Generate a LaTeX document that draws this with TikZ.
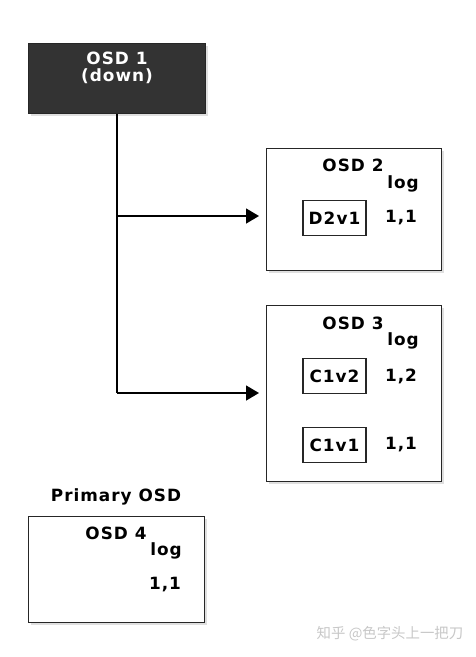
\documentclass[tikz,border=0pt]{standalone}
\usepackage{fontspec}
\setmainfont{DejaVu Sans}[LetterSpace=6]
\newfontfamily\cjk{Noto Sans CJK SC}
\usetikzlibrary{positioning,shadows,arrows.meta}

\tikzset{
  osdbox/.style={draw=black!85, fill=white, line width=0.8pt, inner sep=0pt,
    anchor=north west, drop shadow={shadow xshift=1.2pt, shadow yshift=-1.5pt, opacity=0.25}},
  objbox/.style={draw=black!85, line width=0.7pt, minimum width=1.26cm, minimum height=0.7cm, inner sep=0pt},
  lbl/.style={font=\bfseries\fontsize{9.6}{9.6}\selectfont, inner sep=0pt},
  link/.style={line width=0.85pt, -{Triangle[length=0.26cm,width=0.3cm]}, shorten >=0.14cm}
}

\begin{document}
\begin{tikzpicture}[x=0.02cm,y=-0.02cm]
\useasboundingbox (0,0) rectangle (476,657);

% failed osd
\node[osdbox, fill=black!80, minimum width=3.54cm, minimum height=1.4cm] (osd1) at (28,43) {};
\node[lbl, text=white, align=center] (osd1t) at (117,68) {OSD 1\\(down)};

% replicas
\node[osdbox, minimum width=3.5cm, minimum height=2.44cm] (osd2) at (266,148) {};
\node[lbl] (osd2t) at (353,165) {OSD 2};
\node[lbl] (log2) at (403,184) {log};
\node[objbox, lbl, minimum width=1.26cm, minimum height=0.7cm] (d2v1) at (334.5,218) {D2v1};
\node[lbl] (e2) at (401,218) {1,1};

\node[osdbox, minimum width=3.5cm, minimum height=3.52cm] (osd3) at (266,305) {};
\node[lbl] (osd3t) at (353,323) {OSD 3};
\node[lbl] (log3) at (403,341) {log};
\node[objbox, lbl, minimum width=1.26cm, minimum height=0.7cm] (c1v2) at (334.5,376) {C1v2};
\node[lbl] (e3a) at (401,376) {1,2};
\node[objbox, lbl, minimum width=1.26cm, minimum height=0.7cm] (c1v1) at (334.5,445) {C1v1};
\node[lbl] (e3b) at (401,445) {1,1};

% primary
\node[lbl] (prim) at (116,497) {Primary OSD};
\node[osdbox, minimum width=3.52cm, minimum height=2.12cm] (osd4) at (28,516) {};
\node[lbl] (osd4t) at (116,533) {OSD 4};
\node[lbl] (log4) at (166,551) {log};
\node[lbl] (e4) at (165,585) {1,1};

% connectors
\coordinate (j2) at (117,216);
\coordinate (j3) at (117,393);
\draw[line width=0.85pt] (osd1.south -| j2) -- (j3);
\draw[link] (j2) -- (j2 -| osd2.west);
\draw[link] (j3) -- (j3 -| osd3.west);

\node[text=black!22, font=\cjk\fontsize{8.2}{10}\selectfont, inner sep=0pt] (wm) at (390,634) {知乎 @色字头上一把刀};
\end{tikzpicture}
\end{document}
